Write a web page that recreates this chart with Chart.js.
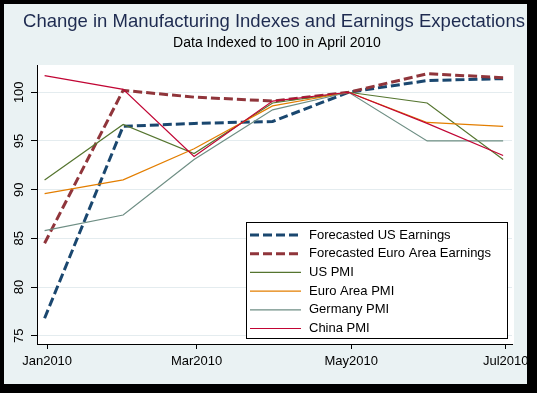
<!DOCTYPE html>
<html>
<head>
<meta charset="utf-8">
<script src="https://cdn.jsdelivr.net/npm/chart.js@4.4.0/dist/chart.umd.min.js"></script>
<style>
  html, body { margin: 0; padding: 0; background: #000; }
  #frame { position: absolute; left: 4px; top: 4px; width: 523px; height: 380px; background: #eaf2f3; overflow: hidden; }
  canvas { display: block; }
</style>
</head>
<body>
<div id="frame"><canvas id="chart" width="523" height="380"></canvas></div>
<script>
// month-end observations, indexed to April 2010 = 100
const dates = ['2009-12-31', '2010-01-31', '2010-02-28', '2010-03-31', '2010-04-30', '2010-05-31', '2010-06-30'];
const usEarnings = [76.8, 96.5, 96.8, 97.0, 100, 101.2, 101.4];
const euroEarnings = [84.5, 100.2, 99.5, 99.1, 100, 101.9, 101.5];
const usPmi = [91.0, 96.7, 93.7, 98.9, 100, 98.9, 93.1];
const euroPmi = [89.6, 91.0, 94.2, 98.6, 100, 96.9, 96.5];
const germanyPmi = [85.8, 87.4, 93.1, 98.2, 100, 95.0, 95.0];
const chinaPmi = [101.7, 100.3, 93.4, 99.1, 100, 96.8, 93.5];

const tickDates = ['2010-01-01', '2010-03-01', '2010-05-01', '2010-07-01'];
const tickLabels = ['Jan2010', 'Mar2010', 'May2010', 'Jul2010'];
const yTicks = [75, 80, 85, 90, 95, 100];

const title = 'Change in Manufacturing Indexes and Earnings Expectations';
const subtitle = 'Data Indexed to 100 in April 2010';

const FONT = "'Liberation Sans', Arial, sans-serif";

// days since 1 Jan 2010
const toDay = s => {
    const [y, m, d] = s.split('-').map(Number);
    return (Date.UTC(y, m - 1, d) - Date.UTC(2010, 0, 1)) / 864e5;
};
const days = dates.map(toDay);
const tickDays = tickDates.map(toDay);

const series = (label, values, color, dashed) => ({
    label: label,
    data: values.map((v, i) => ({ x: days[i], y: v })),
    borderColor: color,
    borderWidth: dashed ? 3 : 1.2,
    borderDash: dashed ? [9, 4] : [],
    pointRadius: 0,
    tension: 0,
    fill: false
});

const datasets = [
    series('Forecasted US Earnings', usEarnings, '#1a476f', true),
    series('Forecasted Euro Area Earnings', euroEarnings, '#90353b', true),
    series('US PMI', usPmi, '#55752f', false),
    series('Euro Area PMI', euroPmi, '#e37e00', false),
    series('Germany PMI', germanyPmi, '#6e8e84', false),
    series('China PMI', chinaPmi, '#c10534', false)
];
datasets.forEach((d, i) => { d.order = datasets.length - i; });

const plotBackground = {
    id: 'plotBackground',
    beforeDraw(chart) {
        const { ctx, chartArea: a } = chart;
        ctx.save();
        ctx.fillStyle = '#ffffff';
        ctx.fillRect(a.left, a.top, a.right - a.left + 2, a.bottom - a.top);
        ctx.restore();
    }
};

const titles = {
    id: 'titles',
    afterDraw(chart) {
        const ctx = chart.ctx;
        ctx.save();
        ctx.textAlign = 'center';
        ctx.textBaseline = 'middle';
        ctx.fillStyle = '#1e2b50';
        ctx.font = '18.5px ' + FONT;
        ctx.fillText(title, 270, 18);
        ctx.fillStyle = '#000';
        ctx.font = '14px ' + FONT;
        ctx.fillText(subtitle, 273, 39);
        ctx.restore();
    }
};

const boxLegend = {
    id: 'boxLegend',
    afterDraw(chart) {
        const { ctx, chartArea: a } = chart;
        const w = 262, h = 117;
        const x = a.right - 4 - w, y = a.bottom - 5 - h;
        ctx.save();
        ctx.fillStyle = '#fff';
        ctx.fillRect(x, y, w, h);
        ctx.strokeStyle = '#000';
        ctx.lineWidth = 1;
        ctx.strokeRect(x + 0.5, y + 0.5, w - 1, h - 1);
        ctx.font = '13px ' + FONT;
        ctx.textBaseline = 'middle';
        ctx.textAlign = 'left';
        chart.data.datasets.forEach((d, i) => {
            const ry = y + 13 + i * 18.7;
            ctx.strokeStyle = d.borderColor;
            ctx.lineWidth = d.borderWidth;
            ctx.setLineDash(d.borderDash);
            ctx.beginPath();
            ctx.moveTo(x + 4, ry);
            ctx.lineTo(x + 55, ry);
            ctx.stroke();
            ctx.setLineDash([]);
            ctx.fillStyle = '#000';
            ctx.fillText(d.label, x + 63, ry);
        });
        ctx.restore();
    }
};

new Chart(document.getElementById('chart'), {
    type: 'line',
    data: { datasets: datasets },
    options: {
        responsive: false,
        animation: false,
        layout: { padding: { top: 61, right: 15, left: 0, bottom: 0 } },
        plugins: {
            legend: { display: false },
            title: { display: false },
            tooltip: { enabled: false }
        },
        scales: {
            x: {
                type: 'linear',
                min: -4,
                max: 183.5,
                afterBuildTicks: s => { s.ticks = tickDays.map(v => ({ value: v })); },
                afterFit: s => { s.height = 40; s.paddingLeft = 0; s.paddingRight = 0; },
                grid: { drawOnChartArea: false, tickColor: '#000', tickLength: 5 },
                border: { color: '#000', width: 1 },
                ticks: {
                    autoSkip: false,
                    maxRotation: 0,
                    padding: 5,
                    color: '#000',
                    font: { family: FONT, size: 13 },
                    callback: v => tickLabels[tickDays.indexOf(v)]
                }
            },
            y: {
                min: 74.15,
                max: 102.8,
                afterBuildTicks: s => { s.ticks = yTicks.map(v => ({ value: v })); },
                afterFit: s => { s.width = 33; s.paddingTop = 0; s.paddingBottom = 0; },
                grid: { color: '#e4ecef', tickColor: '#000', tickLength: 6 },
                border: { color: '#000', width: 1 },
                ticks: {
                    autoSkip: false,
                    minRotation: 90,
                    maxRotation: 90,
                    crossAlign: 'center',
                    padding: 1,
                    color: '#000',
                    font: { family: FONT, size: 13 }
                }
            }
        }
    },
    plugins: [plotBackground, titles, boxLegend]
});
</script>
</body>
</html>
